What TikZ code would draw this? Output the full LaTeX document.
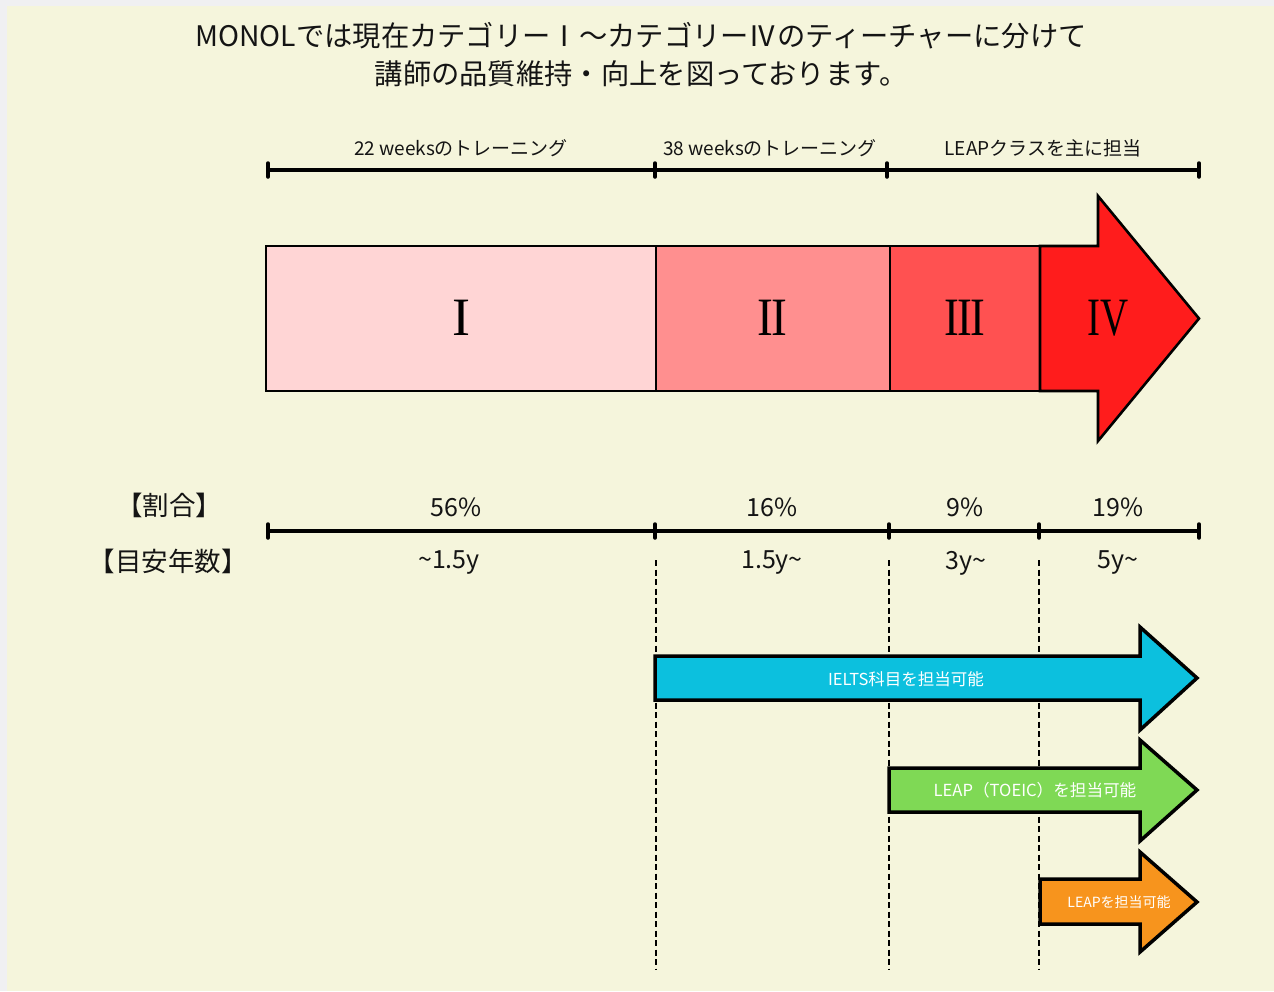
\documentclass[tikz,border=0pt]{standalone}
\usepackage{fontspec}
\setmainfont{Noto Sans CJK JP}
\newfontfamily\romfont{Liberation Serif}
\definecolor{pagebg}{RGB}{240,240,242}
\definecolor{beigebg}{RGB}{245,245,220}
\definecolor{cone}{RGB}{255,213,213}
\definecolor{ctwo}{RGB}{255,143,143}
\definecolor{cthree}{RGB}{255,81,81}
\definecolor{cfour}{RGB}{255,28,28}
\definecolor{cblue}{RGB}{12,192,222}
\definecolor{cgreen}{RGB}{127,217,85}
\definecolor{corange}{RGB}{247,148,29}
\definecolor{ink}{RGB}{20,20,20}
\newcommand{\jn}{\kern-0.035em}
\tikzset{
  barline/.style={draw=black, line width=3.5pt},
  tickmark/.style={draw=black, line width=3.5pt, line cap=round},
  guide/.style={draw=black, line width=1.3pt, dash pattern=on 6pt off 3.5pt},
  segbox/.style={draw=black, line width=2.6pt},
  roman/.style={font=\romfont\fontsize{54}{54}\selectfont, text=black, inner sep=0pt},
  smalllab/.style={font=\fontsize{19}{19}\selectfont, text=ink, inner sep=0pt},
  biglab/.style={font=\fontsize{25}{25}\selectfont, text=ink, inner sep=0pt},
  sidelab/.style={font=\fontsize{26.5}{26.5}\selectfont, text=ink, inner sep=0pt},
  arrowbody/.style={draw=black, line width=3.5pt, line join=miter},
  arrowtext/.style={text=white, inner sep=0pt},
}
\begin{document}
\begin{tikzpicture}[x=1pt,y=-1pt]
\useasboundingbox (0,0) rectangle (1274,991);
\fill[pagebg] (0,0) rectangle (1274,991);
\fill[beigebg] (7,6) rectangle (1274,991);

% title
\node[font=\fontsize{28.3}{38}\selectfont, align=center, text=ink, inner sep=0pt] (title) at (641,55)
  {MONOLでは現在カテゴリーⅠ〜カテゴリーⅣのティーチャーに分けて\\講師の品質維持・向上を図っております。};

% top timeline
\coordinate (a1) at (268,170);
\coordinate (a2) at (655,170);
\coordinate (a3) at (887,170);
\coordinate (a4) at (1199,170);
\draw[barline] (a1) -- (a4);
\foreach \p in {a1,a2,a3,a4} {\draw[tickmark] ([yshift=-7pt]\p) -- ([yshift=7pt]\p);}
\node[smalllab] (w22) at (461,148) {22 weeksのトレーニング};
\node[smalllab] (w38) at (770,148) {38 weeksのトレーニング};
\node[smalllab] (leapmain) at (1043,148) {LEAPクラスを主に担当};

% big arrow
\path[segbox, fill=cone] (266,246) rectangle (656,391);
\path[segbox, fill=ctwo] (656,246) rectangle (890,391);
\path[segbox, fill=cthree] (890,246) rectangle (1040,391);
\path[segbox, fill=cfour, line join=miter] (1040,246) -- (1098,246) -- (1098,196) -- (1199,318.5) -- (1098,441) -- (1098,391) -- (1040,391) -- cycle;
\node[roman] (r1) at (461,318) {I};
\node[roman] (r2) at (772,318) {\scalebox{0.88}[1]{I\jn I}};
\node[roman] (r3) at (965,318) {\scalebox{0.82}[1]{I\jn I\jn I}};
\node[roman] (r4) at (1108,318) {\scalebox{0.72}[1]{IV}};

% side labels
\node[sidelab] (ratio) at (169,505) {【割合】};
\node[sidelab] (years) at (168,561) {【目安年数】};

% percentages
\node[biglab] (p1) at (456,507) {56\%};
\node[biglab] (p2) at (772,507) {16\%};
\node[biglab] (p3) at (965,507) {9\%};
\node[biglab] (p4) at (1118,507) {19\%};

% second timeline
\coordinate (b1) at (268,531);
\coordinate (b2) at (655,531);
\coordinate (b3) at (889,531);
\coordinate (b4) at (1039,531);
\coordinate (b5) at (1199,531);
\draw[barline] (b1) -- (b5);
\foreach \p in {b1,b2,b3,b4,b5} {\draw[tickmark] ([yshift=-7pt]\p) -- ([yshift=7pt]\p);}

% years
\node[biglab] (y1) at (449,563) {\~{}1.5y};
\node[biglab] (y2) at (772,563) {1.5y\~{}};
\node[biglab] (y3) at (966,563) {3y\~{}};
\node[biglab] (y4) at (1118,563) {5y\~{}};

% dashed guides
\coordinate (g1s) at (656,560); \coordinate (g1e) at (656,970);
\coordinate (g2s) at (889,560); \coordinate (g2e) at (889,970);
\coordinate (g3s) at (1039,560); \coordinate (g3e) at (1039,970);
\draw[guide] (g1s) -- (g1e);
\draw[guide] (g2s) -- (g2e);
\draw[guide] (g3s) -- (g3e);

% blue arrow
\path[arrowbody, fill=cblue] (655,656) -- (1140,656) -- (1140,627) -- (1197,678) -- (1140,730) -- (1140,700) -- (655,700) -- cycle;
\node[arrowtext, font=\fontsize{16.5}{16.5}\selectfont] (ielts) at (906,679) {IELTS科目を担当可能};

% green arrow
\path[arrowbody, fill=cgreen] (889,768) -- (1140,768) -- (1140,740) -- (1197,790) -- (1140,841) -- (1140,812) -- (889,812) -- cycle;
\node[arrowtext, font=\fontsize{16.6}{16.6}\selectfont] (toeic) at (1035,790) {LEAP（TOEIC）を担当可能};

% orange arrow
\path[arrowbody, fill=corange] (1040,879) -- (1140,879) -- (1140,852) -- (1197,902) -- (1140,952) -- (1140,924) -- (1040,924) -- cycle;
\node[arrowtext, font=\fontsize{14}{14}\selectfont] (leap) at (1119,902) {LEAPを担当可能};
\end{tikzpicture}
\end{document}
